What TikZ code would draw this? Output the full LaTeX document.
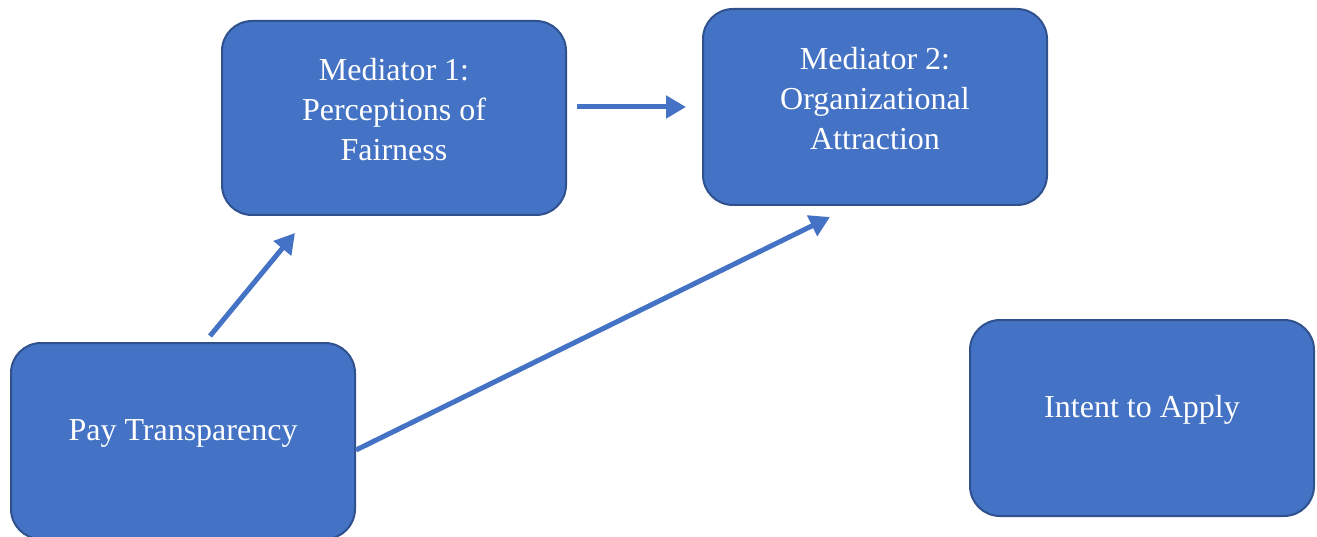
\documentclass[tikz,border=0pt]{standalone}
\usepackage{fontspec}
\setmainfont{Liberation Serif}
\usetikzlibrary{arrows.meta}
\definecolor{boxfill}{HTML}{4472C4}
\definecolor{boxline}{HTML}{2F528F}
\begin{document}
\begin{tikzpicture}[x=1pt,y=-1pt,
  varbox/.style={draw=boxline, line width=2pt, fill=boxfill, rounded corners=30pt, minimum width=344pt, minimum height=196pt, inner sep=0pt, anchor=north west},
  vartext/.style={text=white, font=\fontsize{32}{40}\selectfont, align=center, inner sep=0pt},
  link/.style={draw=boxfill, line width=5pt, -{Triangle[length=20pt,width=22pt]}}
]
\useasboundingbox (0,0) rectangle (1317,537);
\node[varbox] (pt) at (10,342) {};
\node[varbox, minimum height=194pt] (m1) at (221,20) {};
\node[varbox] (m2) at (702,8) {};
\node[varbox] (ia) at (969,319) {};
\node[vartext] (ptt) at ([yshift=8pt]pt.center) {Pay Transparency};
\node[vartext] (m1t) at ([yshift=8pt]m1.center) {Mediator 1:\\Perceptions of\\Fairness};
\node[vartext] (m2t) at ([yshift=8pt]m2.center) {Mediator 2:\\Organizational\\Attraction};
\node[vartext] (iat) at ([yshift=8pt]ia.center) {Intent to Apply};
\coordinate (a1s) at (210,336);
\coordinate (a1e) at (295,233);
\coordinate (a2s) at (577,107);
\coordinate (a2e) at (686,107);
\coordinate (a3s) at (356,450);
\coordinate (a3e) at (830,217);
\draw[link] (a1s) -- (a1e);
\draw[link] (a2s) -- (a2e);
\draw[link] (a3s) -- (a3e);
\end{tikzpicture}
\end{document}
